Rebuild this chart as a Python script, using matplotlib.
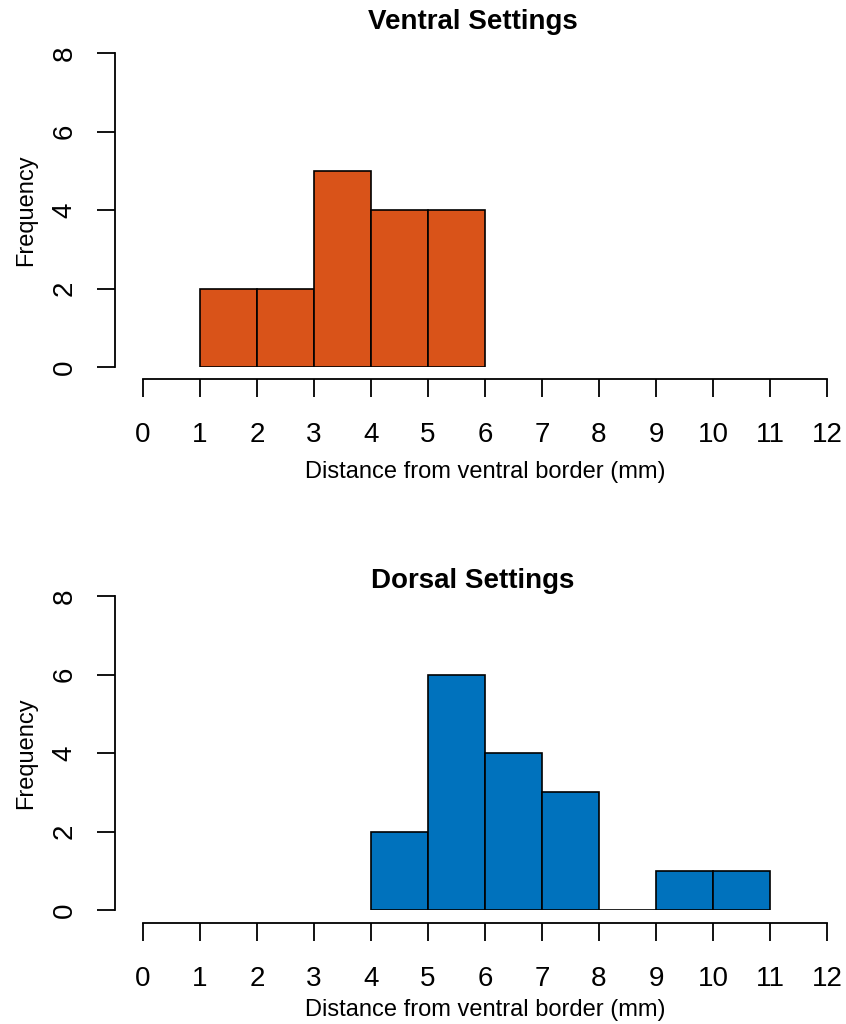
import matplotlib
matplotlib.use("Agg")
import matplotlib.pyplot as plt

plt.rcParams['font.family'] = ['Liberation Sans', 'DejaVu Sans']

# Data
bin_edges = list(range(0, 13))
ventral_left = [1, 2, 3, 4, 5]
ventral_counts = [2, 2, 5, 4, 4]
dorsal_left = [4, 5, 6, 7, 8, 9, 10]
dorsal_counts = [2, 6, 4, 3, 0, 1, 1]
y_ticks = [0, 2, 4, 6, 8]
titles = ["Ventral Settings", "Dorsal Settings"]
xlabel = "Distance from ventral border (mm)"
ylabel = "Frequency"
colors = ["#D95319", "#0072BD"]

W, H = 846, 1024
fig = plt.figure(figsize=(W / 100, H / 100), dpi=100)

panels = [
    dict(top=53, bottom=367, xaxis_y=379, title_y=22, xlabelpad=9,
         left_data=ventral_left, counts=ventral_counts),
    dict(top=596, bottom=910, xaxis_y=923, title_y=581, xlabelpad=5,
         left_data=dorsal_left, counts=dorsal_counts),
]

x0_px, x12_px, yaxis_px = 143, 827, 115

for i, p in enumerate(panels):
    ax = fig.add_axes([x0_px / W, (H - p['bottom']) / H,
                       (x12_px - x0_px) / W, (p['bottom'] - p['top']) / H])
    ax.bar(p['left_data'], p['counts'], width=1, align='edge',
           color=colors[i], edgecolor='black', linewidth=1.2)
    ax.set_xlim(0, 12)
    ax.set_ylim(0, 8)
    ax.set_xticks(bin_edges)
    ax.set_yticks(y_ticks)
    for s in ['top', 'right']:
        ax.spines[s].set_visible(False)
    ax.spines['left'].set_position(('outward', (x0_px - yaxis_px) * 0.72))
    ax.spines['bottom'].set_position(('outward', (p['xaxis_y'] - p['bottom']) * 0.72))
    ax.spines['left'].set_bounds(0, 8)
    ax.spines['bottom'].set_bounds(0, 12)
    for s in ['left', 'bottom']:
        ax.spines[s].set_linewidth(1.3)
    ax.tick_params(axis='both', length=13, width=1.3, labelsize=20)
    ax.tick_params(axis='x', pad=18)
    ax.tick_params(axis='y', pad=14)
    for lab in ax.get_yticklabels():
        lab.set_rotation(90)
        lab.set_va('center')
    fig.text(473 / W, 1 - p['title_y'] / H, titles[i], fontsize=20,
             fontweight='bold', ha='center', va='center')
    ax.set_xlabel(xlabel, fontsize=17, labelpad=p['xlabelpad'])
    ax.set_ylabel(ylabel, fontsize=17, labelpad=10)

fig.savefig("out.png", dpi=100, facecolor='white')
